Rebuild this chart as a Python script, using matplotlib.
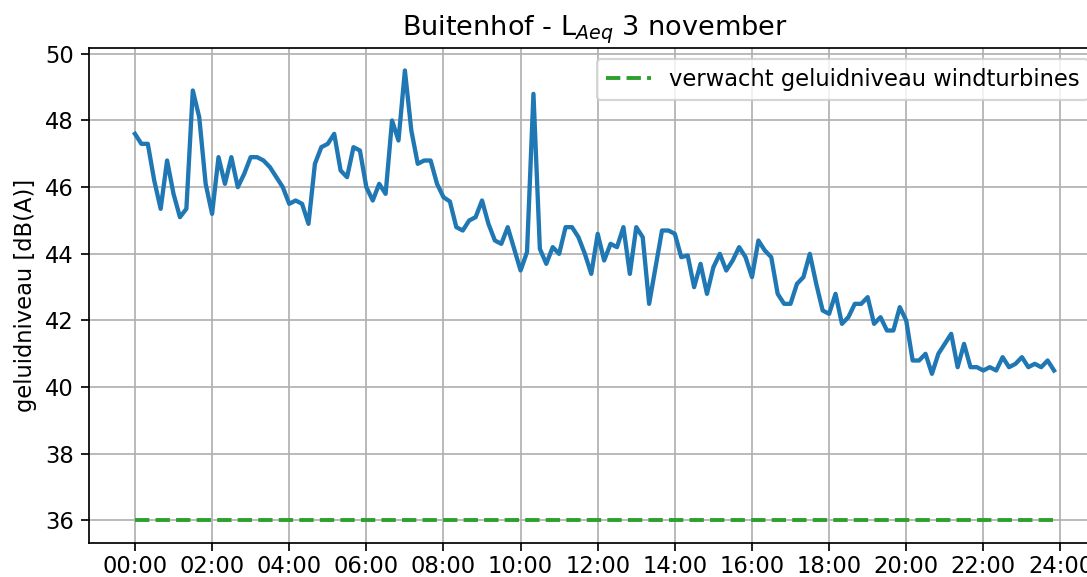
import numpy as np
import matplotlib
matplotlib.use("Agg")
import matplotlib.pyplot as plt

# LAeq per 10 minutes, 3 november (00:00 .. 23:50)
laeq = [
    47.6, 47.3, 47.3, 46.2, 45.35, 46.8, 45.8, 45.1, 45.35, 48.9, 48.1, 46.1,   # 00-02
    45.2, 46.9, 46.1, 46.9, 46.0, 46.4, 46.9, 46.9, 46.8, 46.6, 46.3, 46.0,     # 02-04
    45.5, 45.6, 45.5, 44.9, 46.7, 47.2, 47.3, 47.6, 46.5, 46.3, 47.2, 47.1,     # 04-06
    46.0, 45.6, 46.1, 45.8, 48.0, 47.4, 49.5, 47.7, 46.7, 46.8, 46.8, 46.1,     # 06-08
    45.7, 45.57, 44.8, 44.7, 45.0, 45.1, 45.6, 44.9, 44.4, 44.3, 44.8, 44.15,   # 08-10
    43.5, 44.05, 48.8, 44.15, 43.7, 44.2, 44.0, 44.8, 44.8, 44.5, 44.0, 43.4,   # 10-12
    44.6, 43.8, 44.3, 44.2, 44.8, 43.4, 44.8, 44.5, 42.5, 43.6, 44.7, 44.7,     # 12-14
    44.6, 43.9, 43.95, 43.0, 43.7, 42.8, 43.6, 44.0, 43.5, 43.8, 44.2, 43.9,    # 14-16
    43.3, 44.4, 44.1, 43.9, 42.8, 42.5, 42.5, 43.1, 43.3, 44.0, 43.1, 42.3,     # 16-18
    42.2, 42.8, 41.9, 42.1, 42.5, 42.5, 42.7, 41.9, 42.1, 41.7, 41.7, 42.4,     # 18-20
    42.0, 40.8, 40.8, 41.0, 40.4, 41.0, 41.3, 41.6, 40.6, 41.3, 40.6, 40.6,     # 20-22
    40.5, 40.6, 40.5, 40.9, 40.6, 40.7, 40.9, 40.6, 40.7, 40.6, 40.8, 40.5,     # 22-24
]
expected_level = 36.0
expected_label = "verwacht geluidniveau windturbines"
title = "Buitenhof - L$_{Aeq}$ 3 november"
ylabel = "geluidniveau [dB(A)]"
tick_hours = list(range(0, 25, 2))
tick_labels = [f"{h:02d}:00" for h in tick_hours]

hours = np.arange(len(laeq)) / 6.0  # 10-minute intervals in hours

plt.rcParams["font.size"] = 10.5

DPI = 155
fig = plt.figure(figsize=(1087 / DPI, 577 / DPI), dpi=DPI)
ax = fig.add_axes([89 / 1087, 34 / 577, (1100 - 89) / 1087, (543 - 48) / 577])

ax.plot(hours, laeq, color="tab:blue", linewidth=2.0)
ax.plot(hours, [expected_level] * len(hours), color="tab:green",
        linestyle="--", linewidth=1.8, label=expected_label)

ax.set_xticks(tick_hours)
ax.set_xticklabels(tick_labels)
ax.tick_params(axis="x", pad=2.3)
ax.set_yticks(np.arange(36, 51, 2))
ax.set_ylabel(ylabel)
ax.set_title(title)
ax.grid(True)
ax.legend(loc="upper right")

fig.savefig("out.png", dpi=DPI)
